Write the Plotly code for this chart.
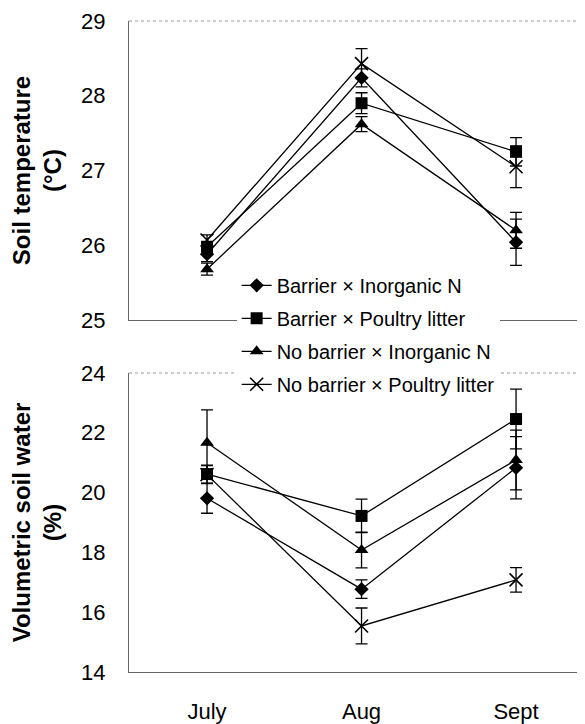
import plotly.graph_objects as go

months = ["July", "Aug", "Sept"]
series_names = [
    "Barrier × Inorganic N",
    "Barrier × Poultry litter",
    "No barrier × Inorganic N",
    "No barrier × Poultry litter",
]
symbols = ["diamond", "square", "triangle-up", "x-thin-open"]
sizes = [11, 12, 12, 13]

# Soil temperature (°C)
temp_barrier_inorg = [25.88, 28.24, 26.04]
temp_barrier_poultry = [25.98, 27.90, 27.25]
temp_nobarrier_inorg = [25.68, 27.62, 26.20]
temp_nobarrier_poultry = [26.07, 28.43, 27.05]
temp_err_barrier_inorg = [0.10, 0.12, 0.31]
temp_err_barrier_poultry = [0.06, 0.14, 0.19]
temp_err_nobarrier_inorg = [0.08, 0.10, 0.24]
temp_err_nobarrier_poultry = [0.07, 0.20, 0.28]

# Volumetric soil water (%)
water_barrier_inorg = [19.81, 16.77, 20.83]
water_barrier_poultry = [20.62, 19.22, 22.46]
water_nobarrier_inorg = [21.67, 18.08, 21.09]
water_nobarrier_poultry = [20.60, 15.54, 17.08]
water_err_barrier_inorg = [0.50, 0.31, 1.04]
water_err_barrier_poultry = [0.30, 0.56, 1.00]
water_err_nobarrier_inorg = [1.10, 0.60, 1.00]
water_err_nobarrier_poultry = [0.30, 0.60, 0.41]

temps = [temp_barrier_inorg, temp_barrier_poultry, temp_nobarrier_inorg, temp_nobarrier_poultry]
temp_errs = [temp_err_barrier_inorg, temp_err_barrier_poultry, temp_err_nobarrier_inorg, temp_err_nobarrier_poultry]
waters = [water_barrier_inorg, water_barrier_poultry, water_nobarrier_inorg, water_nobarrier_poultry]
water_errs = [water_err_barrier_inorg, water_err_barrier_poultry, water_err_nobarrier_inorg, water_err_nobarrier_poultry]

FONT = "Arial, Liberation Sans, sans-serif"
AXC = "#666666"

fig = go.Figure()
for i, name in enumerate(series_names):
    mk = dict(symbol=symbols[i], size=sizes[i], color="black",
              line=dict(color="black", width=1.6 if i == 3 else 0))
    fig.add_trace(go.Scatter(
        x=months, y=temps[i], name=name, mode="lines+markers",
        line=dict(color="black", width=1.3), marker=mk,
        error_y=dict(type="data", array=temp_errs[i], color="black", thickness=1.3, width=6),
        xaxis="x", yaxis="y", showlegend=True, legendgroup=str(i)))
    fig.add_trace(go.Scatter(
        x=months, y=waters[i], name=name, mode="lines+markers",
        line=dict(color="black", width=1.3), marker=mk,
        error_y=dict(type="data", array=water_errs[i], color="black", thickness=1.3, width=6),
        xaxis="x2", yaxis="y2", showlegend=False, legendgroup=str(i)))

xr = [-0.505, 2.498]
common_y = dict(showline=True, linecolor=AXC, linewidth=1, ticks="", showgrid=False,
                zeroline=False, tickfont=dict(size=22, color="black", family=FONT),
                ticklabelstandoff=18, automargin=False)

fig.update_layout(
    width=585, height=724,
    margin=dict(l=121, r=0, t=13, b=60),
    paper_bgcolor="white", plot_bgcolor="white",
    font=dict(family=FONT, color="black"),
    xaxis=dict(domain=[0, 1], anchor="y", range=xr, type="category",
               categoryarray=months, showticklabels=False, showline=True,
               linecolor=AXC, ticks="", showgrid=False, automargin=False),
    xaxis2=dict(domain=[0, 1], anchor="y2", range=xr, type="category",
                categoryarray=months, showline=True, linecolor=AXC, ticks="",
                showgrid=False, tickfont=dict(size=22, color="black", family=FONT),
                ticklabelstandoff=20, automargin=False),
    yaxis=dict(domain=[0.5407, 1], anchor="x", range=[25, 29], dtick=1,
               title=dict(text="<b>Soil temperature<br>(°C)</b>",
                          font=dict(size=24, family=FONT, color="black"), standoff=12),
               **common_y),
    yaxis2=dict(domain=[0, 0.4593], anchor="x2", range=[14, 24], dtick=2,
                title=dict(text="<b>Volumetric soil water<br>(%)</b>",
                           font=dict(size=24, family=FONT, color="black"), standoff=12),
                **common_y),
    legend=dict(x=0.232, y=0.624, xanchor="left", yanchor="top",
                bgcolor="white", borderwidth=0,
                font=dict(size=20, family=FONT, color="black"),
                tracegroupgap=4),
    shapes=[
        dict(type="line", xref="x domain", yref="y domain", x0=0, x1=1, y0=1, y1=1,
             line=dict(color="#999999", width=1, dash="dot")),
        dict(type="line", xref="x2 domain", yref="y2 domain", x0=0, x1=1, y0=1, y1=1,
             line=dict(color="#999999", width=1, dash="dot")),
    ],
)

fig.write_html("out.html")
